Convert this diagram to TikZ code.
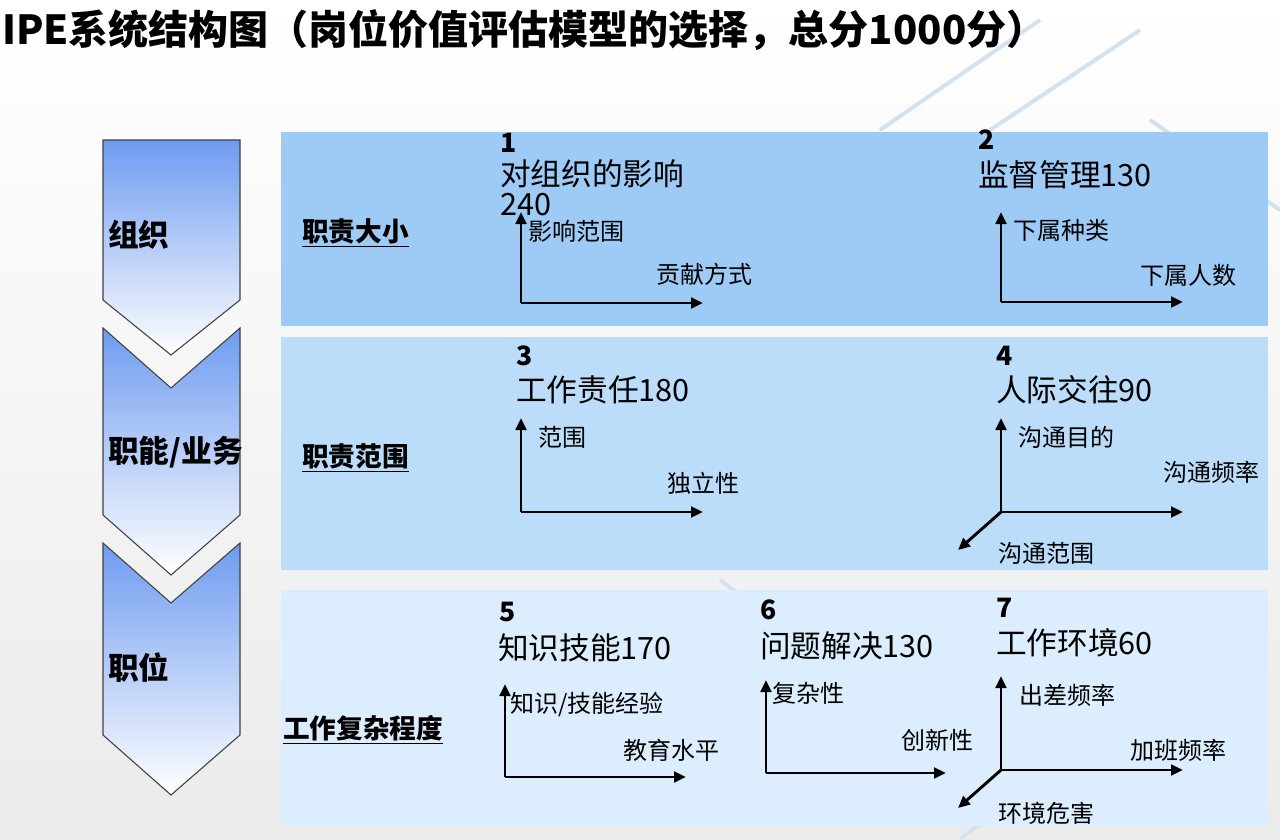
\documentclass[tikz,border=0pt]{standalone}
\usepackage{fontspec}
\setmainfont{Noto Sans CJK SC}
\usetikzlibrary{arrows.meta}
\definecolor{pa}{HTML}{9ECBF6}
\definecolor{pb}{HTML}{BCDDFA}
\definecolor{pc}{HTML}{DCEEFD}
\definecolor{chev}{HTML}{6E9BF0}
\definecolor{bgl}{HTML}{D3E2EE}
\tikzset{
 chevron/.style={draw=black!75,line width=0.8pt,top color=chev,bottom color=white},
 ax/.style={line width=2.2pt,-{Triangle[length=9pt,width=8pt]}},
 big/.style={font=\fontsize{23}{26}\selectfont,inner sep=0pt,anchor=west},
 num/.style={font=\fontsize{20}{22}\selectfont\bfseries,inner sep=0pt,anchor=west},
 sml/.style={font=\fontsize{18}{20}\selectfont,inner sep=0pt},
 lab/.style={font=\fontsize{23}{26}\selectfont\bfseries,inner sep=0pt,anchor=west},
 plab/.style={font=\fontsize{20}{23}\selectfont\bfseries,inner sep=0pt,anchor=west}
}
\newcommand{\ul}[1]{\underline{#1}}
\begin{document}
\begin{tikzpicture}[x=0.75pt,y=-0.75pt]
\useasboundingbox (0,0) rectangle (1280,839);
\shade[top color=white,bottom color=black!8] (0,0) rectangle (1280,839);
\draw[bgl,line width=3pt] (880,130) -- (1040,20) (990,130) -- (1140,30) (1150,120) -- (1280,210) (720,580) -- (760,610) (960,839) -- (1040,780);
% panels
\fill[pa] (281,132) rectangle (1268,326);
\fill[pb] (281,337) rectangle (1268,570);
\fill[pc] (281,590) rectangle (1268,826);
% chevrons
\draw[chevron] (103,140) -- (240,140) -- (240,300) -- (171,355) -- (103,300) -- cycle;
\draw[chevron] (103,328) -- (171,388) -- (240,328) -- (240,515) -- (171,575) -- (103,515) -- cycle;
\draw[chevron] (103,543) -- (171,603) -- (240,543) -- (240,735) -- (171,795) -- (103,735) -- cycle;
\node[lab] (c1) at (108,235) {组织};
\node[lab] (c2) at (108,452) {职能/业务};
\node[lab] (c3) at (108,668) {职位};
\node[plab] (p1) at (302,233) {\ul{职责大小}};
\node[plab] (p2) at (302,458) {\ul{职责范围}};
\node[plab] (p3) at (283,730) {\ul{工作复杂程度}};
\node[font=\fontsize{30}{34}\selectfont\bfseries,anchor=west,inner sep=0pt] (title) at (2,30) {IPE系统结构图（岗位价值评估模型的选择，总分1000分）};
% group 1
\coordinate (o1) at (521,303); \coordinate (u1) at (521,212); \coordinate (r1) at (703,303);
\draw[ax] (o1) -- (u1); \draw[ax] (o1) -- (r1);
\node[num] (n1) at (500,143) {1};
\node[big] (t1) at (500,174) {对组织的影响};
\node[big] (t1b) at (500,205) {240};
\node[sml,anchor=west] (a1) at (528,231) {影响范围};
\node[sml,anchor=east] (b1) at (753,274) {贡献方式};
% group 2
\coordinate (o2) at (1001,302); \coordinate (u2) at (1001,212); \coordinate (r2) at (1183,302);
\draw[ax] (o2) -- (u2); \draw[ax] (o2) -- (r2);
\node[num] (n2) at (978,140) {2};
\node[big] (t2) at (978,175) {监督管理130};
\node[sml,anchor=west] (a2) at (1013,230) {下属种类};
\node[sml,anchor=east] (b2) at (1237,275) {下属人数};
% group 3
\coordinate (o3) at (521,512); \coordinate (u3) at (521,418); \coordinate (r3) at (703,512);
\draw[ax] (o3) -- (u3); \draw[ax] (o3) -- (r3);
\node[num] (n3) at (516,356) {3};
\node[big] (t3) at (516,390) {工作责任180};
\node[sml,anchor=west] (a3) at (538,437) {范围};
\node[sml,anchor=east] (b3) at (740,483) {独立性};
% group 4
\coordinate (o4) at (1001,512); \coordinate (u4) at (1001,418); \coordinate (r4) at (1183,512); \coordinate (d4) at (958,550);
\draw[ax] (o4) -- (u4); \draw[ax] (o4) -- (r4); \draw[ax] (o4) -- (d4);
\node[num] (n4) at (996,356) {4};
\node[big] (t4) at (996,390) {人际交往90};
\node[sml,anchor=west] (a4) at (1018,437) {沟通目的};
\node[sml,anchor=east] (b4) at (1260,472) {沟通频率};
\node[sml,anchor=west] (c4) at (998,553) {沟通范围};
% group 5
\coordinate (o5) at (505,777); \coordinate (u5) at (505,684); \coordinate (r5) at (686,777);
\draw[ax] (o5) -- (u5); \draw[ax] (o5) -- (r5);
\node[num] (n5) at (499,612) {5};
\node[big] (t5) at (498,648) {知识技能170};
\node[sml,anchor=west] (a5) at (510,704) {知识/技能经验};
\node[sml,anchor=east] (b5) at (720,750) {教育水平};
% group 6
\coordinate (o6) at (766,773); \coordinate (u6) at (766,680); \coordinate (r6) at (946,773);
\draw[ax] (o6) -- (u6); \draw[ax] (o6) -- (r6);
\node[num] (n6) at (760,610) {6};
\node[big] (t6) at (760,646) {问题解决130};
\node[sml,anchor=west] (a6) at (772,693) {复杂性};
\node[sml,anchor=east] (b6) at (974,740) {创新性};
% group 7
\coordinate (o7) at (1001,770); \coordinate (u7) at (1001,676); \coordinate (r7) at (1183,770); \coordinate (d7) at (958,808);
\draw[ax] (o7) -- (u7); \draw[ax] (o7) -- (r7); \draw[ax] (o7) -- (d7);
\node[num] (n7) at (996,608) {7};
\node[big] (t7) at (996,643) {工作环境60};
\node[sml,anchor=west] (a7) at (1019,695) {出差频率};
\node[sml,anchor=east] (b7) at (1227,750) {加班频率};
\node[sml,anchor=west] (c7) at (998,813) {环境危害};
\end{tikzpicture}
\end{document}
